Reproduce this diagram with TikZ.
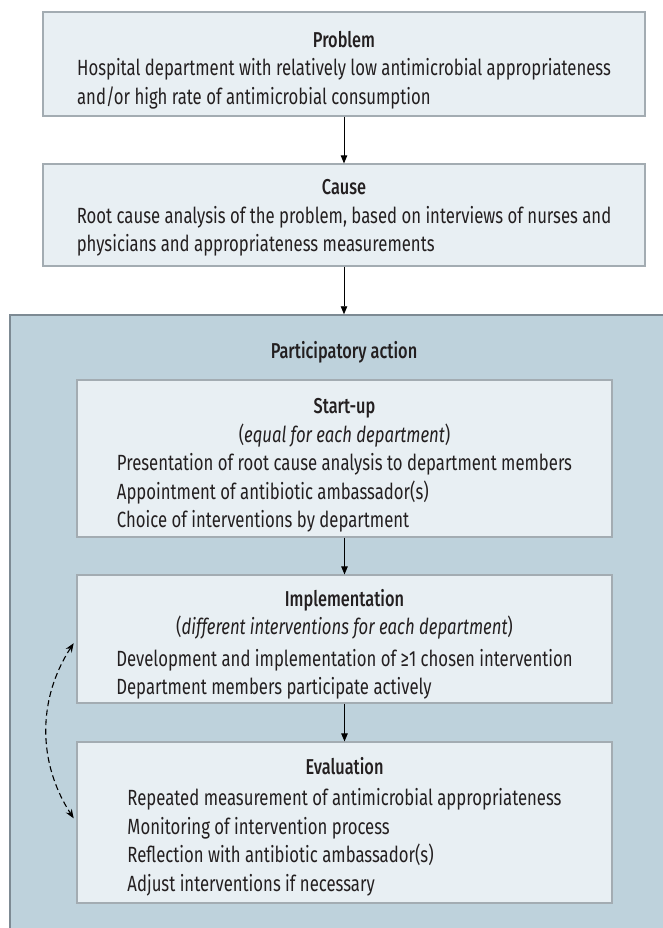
\documentclass[tikz,border=0pt]{standalone}
\usepackage{fontspec}
\setmainfont{Fira Sans}[FakeStretch=0.76, BoldFont={* Medium}]
\usepackage{tikz}
\usetikzlibrary{
  arrows.meta,
  positioning
}
\definecolor{acpanel}    {HTML}{BED2DC}
\definecolor{acbox}      {HTML}{E8EFF3}
\definecolor{acedge}     {HTML}{A3ACB2}
\definecolor{acpaneledge}{HTML}{7D8A93}
\definecolor{actext}     {HTML}{231F20}
\newcommand{\achead}[1]{{\fontsize{21.5}{28.5}\selectfont\bfseries #1}}

\begin{document}
\begin{tikzpicture}[
  x=1pt, y=-1pt,
  every node/.style={font=\fontsize{22}{28.5}\selectfont, text=actext},
  box/.style={rectangle, draw=acedge, fill=acbox, line width=1.2pt, inner sep=0pt},
  wide/.style={box, minimum width=602pt},
  inner/.style={box, minimum width=535pt},
  txt/.style={align=center, inner sep=0pt},
  panel/.style={rectangle, draw=acpaneledge, fill=acpanel, line width=1.5pt,
                minimum width=668pt, minimum height=624pt},
  arr/.style={-{Triangle[length=8pt, width=6.5pt]}, line width=0.9pt},
  feedback/.style={{Stealth[length=9pt, width=7pt]}-{Stealth[length=9pt, width=7pt]},
                   dash pattern=on 6pt off 3.5pt, line width=1.1pt,
                   shorten <=5pt, shorten >=5pt}
]
\useasboundingbox (0,0) rectangle (663,928);
\clip (0,0) rectangle (663,928);

% Boxes
\node[wide, minimum height=104pt] (problem) at (344,64) {};
\node[wide, minimum height=102pt] (cause) at (344,215) {};
\node[panel] (action) at (344,627) {};
\node[inner, minimum height=157pt] (startup) at (344.5,458.5) {};
\node[inner, minimum height=128pt] (impl) at (344.5,639) {};
\node[inner, minimum height=161pt] (eval) at (344.5,822.5) {};

% Problem
\node[txt] (problemtxt) at ([yshift=-8pt]problem.center)
  {\achead{Problem}\\
   \begin{tabular}[t]{@{}l@{}}
   Hospital department with relatively low antimicrobial appropriateness\\
   and/or high rate of antimicrobial consumption
   \end{tabular}};

% Cause
\node[txt] (causetxt) at ([yshift=-5pt]cause.center)
  {\achead{Cause}\\
   \begin{tabular}[t]{@{}l@{}}
   Root cause analysis of the problem, based on interviews of nurses and\\
   physicians and appropriateness measurements
   \end{tabular}};

% Participatory action
\node[txt] (actiontxt) at (344,352) {\achead{Participatory action}};

% Start-up
\node[txt] (startuptxt) at ([yshift=-9pt]startup.center)
  {\achead{Start-up}\\
   (\textit{equal for each department})\\
   \begin{tabular}[t]{@{}l@{}}
   Presentation of root cause analysis to department members\\
   Appointment of antibiotic ambassador(s)\\
   Choice of interventions by department
   \end{tabular}};

% Implementation
\node[txt] (impltxt) at ([yshift=-7pt]impl.center)
  {\achead{Implementation}\\
   (\textit{different interventions for each department})\\[3pt]
   \begin{tabular}[t]{@{}l@{}}
   Development and implementation of ≥1 chosen intervention\\
   Department members participate actively
   \end{tabular}};

% Evaluation
\node[txt] (evaltxt) at ([yshift=-6pt]eval.center)
  {\achead{Evaluation}\\[3pt]
   \begin{tabular}[t]{@{}l@{}}
   Repeated measurement of antimicrobial appropriateness\\
   Monitoring of intervention process\\
   Reflection with antibiotic ambassador(s)\\
   Adjust interventions if necessary
   \end{tabular}};

% Arrows
\draw[arr] (problem) -- (cause);
\draw[arr] (cause) -- (action);
\draw[arr] (startup) -- (impl);
\draw[arr] (impl) -- (eval);
\draw[feedback] (impl.west) to[bend right=33] (eval.west);

\end{tikzpicture}
\end{document}
